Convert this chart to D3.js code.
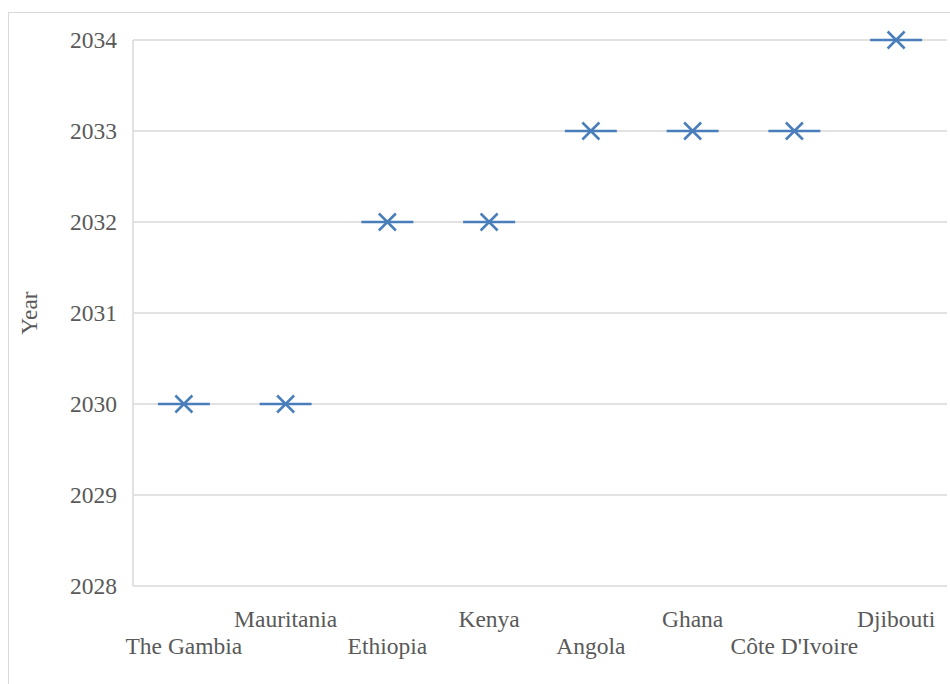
<!DOCTYPE html>
<html><head><meta charset="utf-8">
<script src="https://cdn.jsdelivr.net/npm/d3@7"></script>
<style>
html,body{margin:0;padding:0;background:#fff;}
svg{display:block;}
</style></head>
<body>
<svg id="chart" width="950" height="684"></svg>
<script>
const countries = ["The Gambia","Mauritania","Ethiopia","Kenya","Angola","Ghana","Côte D'Ivoire","Djibouti"];
const years = [2030,2030,2032,2032,2033,2033,2033,2034];
const yTicks = [2028,2029,2030,2031,2032,2033,2034];

const svg = d3.select("#chart");
const W = 950, H = 684;
const margin = {left:133, top:40, right:3, bottom:98};
const font = "'Liberation Serif','Times New Roman',serif";
const textColor = "#595959";
const gridColor = "#d9d9d9";
const markColor = "#4a7ebb";

// outer chart border
svg.append("rect").attr("x",8.5).attr("y",12.5).attr("width",960).attr("height",700)
  .attr("fill","none").attr("stroke","#d9d9d9").attr("stroke-width",1);

const x = d3.scaleBand().domain(countries).range([margin.left, W - margin.right]);
const y = d3.scaleLinear().domain([2028,2034]).range([H - margin.bottom, margin.top]);

// gridlines
svg.append("g").selectAll("line").data(yTicks.slice(1)).join("line")
  .attr("x1",margin.left).attr("x2",W - margin.right)
  .attr("y1",d=>y(d)).attr("y2",d=>y(d))
  .attr("stroke",gridColor).attr("stroke-width",1.5);

// axes lines
svg.append("line").attr("x1",margin.left).attr("x2",margin.left)
  .attr("y1",y(2034)).attr("y2",y(2028)).attr("stroke",gridColor).attr("stroke-width",1.5);
svg.append("line").attr("x1",margin.left).attr("x2",W - margin.right)
  .attr("y1",y(2028)).attr("y2",y(2028)).attr("stroke",gridColor).attr("stroke-width",1.5);

// y axis labels
const yAxis = d3.axisLeft(y).tickValues(yTicks).tickFormat(d3.format("d")).tickSize(0).tickPadding(16);
const ga = svg.append("g").attr("transform",`translate(${margin.left},0)`).call(yAxis);
ga.select(".domain").remove();
ga.selectAll("text").attr("font-family",font).attr("font-size",23.5).attr("fill",textColor);

// y title
svg.append("text").attr("transform",`translate(37,${(y(2028)+y(2034))/2}) rotate(-90)`)
  .attr("text-anchor","middle").attr("font-family",font).attr("font-size",23.5)
  .attr("fill",textColor).text("Year");

// x labels staggered
svg.append("g").selectAll("text").data(countries).join("text")
  .attr("x",d=>x(d)+x.bandwidth()/2)
  .attr("y",(d,i)=> i%2===0 ? 654 : 627)
  .attr("text-anchor","middle").attr("font-family",font).attr("font-size",23.5)
  .attr("fill",textColor).text(d=>d);

// median lines + X markers
const halfLine = 26, halfX = 8.5;
const g = svg.append("g");
countries.forEach((c,i)=>{
  const cx = x(c)+x.bandwidth()/2, cy = y(years[i]);
  g.append("line").attr("x1",cx-halfLine).attr("x2",cx+halfLine).attr("y1",cy).attr("y2",cy)
    .attr("stroke",markColor).attr("stroke-width",2.5);
  g.append("path").attr("d",`M${cx-halfX},${cy-halfX}L${cx+halfX},${cy+halfX}M${cx-halfX},${cy+halfX}L${cx+halfX},${cy-halfX}`)
    .attr("stroke",markColor).attr("stroke-width",2.5).attr("fill","none");
});
</script>
</body></html>
